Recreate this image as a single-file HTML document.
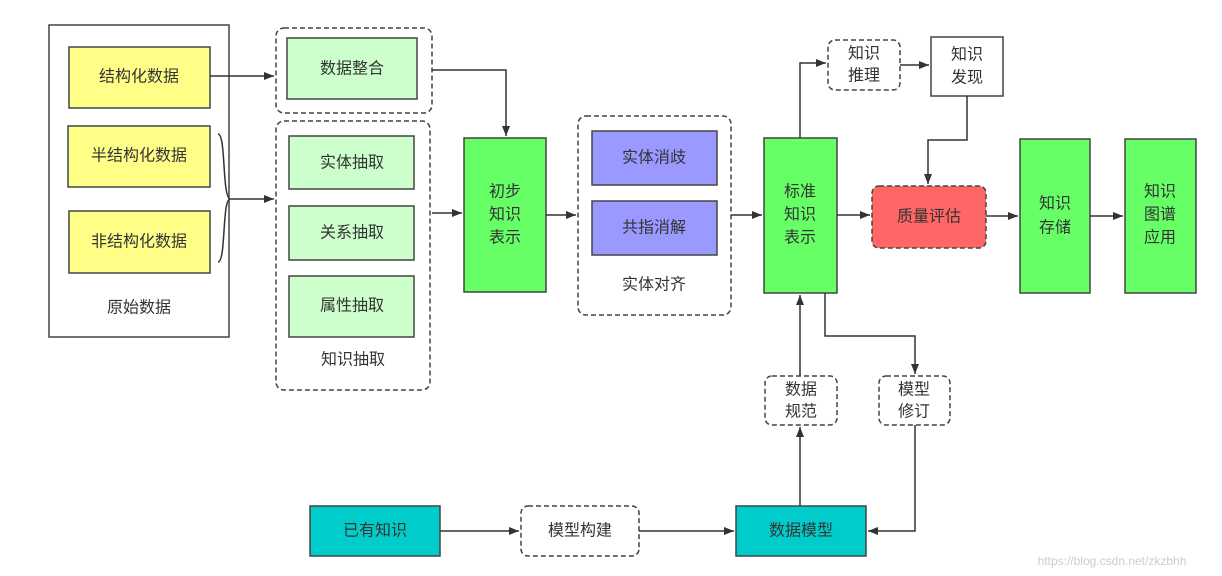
<!DOCTYPE html>
<html><head><meta charset="utf-8"><style>
html,body{margin:0;padding:0;background:#fff;width:1222px;height:576px;overflow:hidden}
text{font-family:"Liberation Sans","Noto Sans CJK SC",sans-serif;font-size:16px;fill:#333;text-anchor:middle;dominant-baseline:central}
</style></head><body>
<svg width="1222" height="576" viewBox="0 0 1222 576" xmlns="http://www.w3.org/2000/svg">
<defs><marker id="a" viewBox="0 0 10 10" refX="10" refY="5" markerWidth="10" markerHeight="10" markerUnits="userSpaceOnUse" orient="auto"><path d="M0,1 L10,5 L0,9 z" fill="#333"/></marker></defs>
<g stroke="#444" stroke-width="1.5">
<rect x="49" y="25" width="180" height="312" fill="#fff"/>
<rect x="69" y="47" width="141" height="61" fill="#ffff88"/>
<rect x="68" y="126" width="142" height="61" fill="#ffff88"/>
<rect x="69" y="211" width="141" height="62" fill="#ffff88"/>
<rect x="276" y="28" width="156" height="85" rx="8" fill="none" stroke-dasharray="5,3"/>
<rect x="287" y="38" width="130" height="61" fill="#ccffcc"/>
<rect x="276" y="121" width="154" height="269" rx="8" fill="none" stroke-dasharray="5,3"/>
<rect x="289" y="136" width="125" height="53" fill="#ccffcc"/>
<rect x="289" y="206" width="125" height="54" fill="#ccffcc"/>
<rect x="289" y="276" width="125" height="61" fill="#ccffcc"/>
<rect x="464" y="138" width="82" height="154" fill="#66ff66"/>
<rect x="578" y="116" width="153" height="199" rx="8" fill="none" stroke-dasharray="5,3"/>
<rect x="592" y="131" width="125" height="54" fill="#9999ff"/>
<rect x="592" y="201" width="125" height="54" fill="#9999ff"/>
<rect x="764" y="138" width="73" height="155" fill="#66ff66"/>
<rect x="828" y="40" width="72" height="50" rx="7" fill="#fff" stroke-dasharray="5,3"/>
<rect x="931" y="37" width="72" height="59" fill="#fff"/>
<rect x="872" y="186" width="114" height="62" rx="7" fill="#ff6666" stroke-dasharray="5,3"/>
<rect x="1020" y="139" width="70" height="154" fill="#66ff66"/>
<rect x="1125" y="139" width="71" height="154" fill="#66ff66"/>
<rect x="765" y="376" width="72" height="49" rx="7" fill="#fff" stroke-dasharray="5,3"/>
<rect x="879" y="376" width="71" height="49" rx="7" fill="#fff" stroke-dasharray="5,3"/>
<rect x="310" y="506" width="130" height="50" fill="#00cccc"/>
<rect x="521" y="506" width="118" height="50" rx="7" fill="#fff" stroke-dasharray="5,3"/>
<rect x="736" y="506" width="130" height="50" fill="#00cccc"/>
</g>
<g stroke="#333" stroke-width="1.5" fill="none">
<path d="M210,76 H274" marker-end="url(#a)"/>
<path d="M218,134 C226,134 222,196 230,199 H274" marker-end="url(#a)"/>
<path d="M218,262 C226,262 222,200 230,199"/>
<path d="M432,70 H506 V136" marker-end="url(#a)"/>
<path d="M432,213 H462" marker-end="url(#a)"/>
<path d="M546,215 H576" marker-end="url(#a)"/>
<path d="M731,215 H762" marker-end="url(#a)"/>
<path d="M800,138 V63 H826" marker-end="url(#a)"/>
<path d="M900,65 H929" marker-end="url(#a)"/>
<path d="M967,96 V140 H928 V184" marker-end="url(#a)"/>
<path d="M837,215 H870" marker-end="url(#a)"/>
<path d="M986,216 H1018" marker-end="url(#a)"/>
<path d="M1090,216 H1123" marker-end="url(#a)"/>
<path d="M825,293 V336 H915 V374" marker-end="url(#a)"/>
<path d="M800,376 V295" marker-end="url(#a)"/>
<path d="M800,506 V427" marker-end="url(#a)"/>
<path d="M915,425 V531 H868" marker-end="url(#a)"/>
<path d="M440,531 H519" marker-end="url(#a)"/>
<path d="M639,531 H734" marker-end="url(#a)"/>
</g>
<text x="139" y="77">结构化数据</text>
<text x="139" y="156">半结构化数据</text>
<text x="139" y="242">非结构化数据</text>
<text x="139" y="308">原始数据</text>
<text x="352" y="69">数据整合</text>
<text x="352" y="163">实体抽取</text>
<text x="352" y="233">关系抽取</text>
<text x="352" y="306">属性抽取</text>
<text x="353" y="360">知识抽取</text>
<text x="505" y="192">初步</text><text x="505" y="215">知识</text><text x="505" y="238">表示</text>
<text x="654" y="158">实体消歧</text>
<text x="654" y="228">共指消解</text>
<text x="654" y="285">实体对齐</text>
<text x="800" y="192">标准</text><text x="800" y="215">知识</text><text x="800" y="238">表示</text>
<text x="864" y="54">知识</text><text x="864" y="76">推理</text>
<text x="967" y="55">知识</text><text x="967" y="78">发现</text>
<text x="929" y="217">质量评估</text>
<text x="1055" y="204">知识</text><text x="1055" y="228">存储</text>
<text x="1160" y="192">知识</text><text x="1160" y="215">图谱</text><text x="1160" y="238">应用</text>
<text x="801" y="390">数据</text><text x="801" y="412">规范</text>
<text x="914" y="390">模型</text><text x="914" y="412">修订</text>
<text x="375" y="531">已有知识</text>
<text x="580" y="531">模型构建</text>
<text x="801" y="531">数据模型</text>
<text x="1112" y="561" style="font-size:12px;fill:#ccc">https://blog.csdn.net/zkzbhh</text>
</svg>
</body></html>
